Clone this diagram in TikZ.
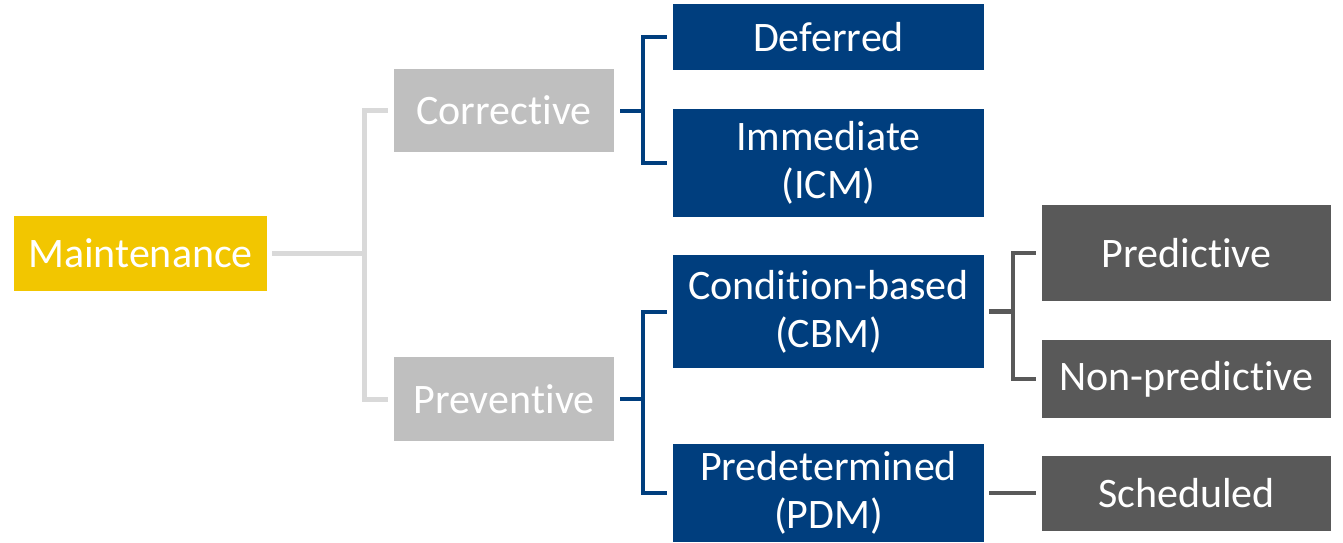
\documentclass[tikz,border=0pt]{standalone}
\usepackage{fontspec}
\setmainfont{Carlito}[RawFeature={-liga;-clig;-calt;-dlig}]
\newcommand{\nolig}{\kern0pt{}}
\definecolor{myyellow}{HTML}{F2C600}
\definecolor{lgbox}{HTML}{BFBFBF}
\definecolor{lgline}{HTML}{D9D9D9}
\definecolor{myblue}{HTML}{003E7E}
\definecolor{dgray}{HTML}{595959}
\begin{document}
\begin{tikzpicture}[x=1pt,y=-1pt,
  box/.style={rectangle, inner sep=0pt, align=center, text=white,
    font=\fontsize{42}{48}\selectfont},
  ybox/.style={box, fill=myyellow},
  gbox/.style={box, fill=lgbox, minimum width=220pt},
  bbox/.style={box, fill=myblue, minimum width=311pt},
  dbox/.style={box, fill=dgray, minimum width=289pt},
  gline/.style={draw=lgline, line width=5pt},
  bline/.style={draw=myblue, line width=4pt},
  dline/.style={draw=dgray, line width=4.5pt}]
\useasboundingbox (0,0) rectangle (1343,542);
\node[ybox, minimum width=253pt, minimum height=75pt] (m) at (140.5,253) {Maintenance};
\node[gbox, minimum height=83pt] (cor) at (504,110.5) {Correc\nolig tive};
\node[gbox, minimum height=84pt] (pre) at (504,399) {Preven\nolig tive};
\node[bbox, minimum height=66pt] (def) at (828.5,37) {Deferred};
\node[bbox, minimum height=108pt] (imm) at (828.5,163) {Immediate\\(ICM)};
\node[bbox, minimum height=113pt] (cbm) at (828.5,311.5) {Condi\nolig tion-based\\(CBM)};
\node[bbox, minimum height=98pt] (pdm) at (828.5,493) {Predetermined\\(PDM)};
\node[dbox, minimum height=96pt] (prd) at (1186.5,253) {Predic\nolig tive};
\node[dbox, minimum height=78pt] (npr) at (1186.5,379) {Non-predic\nolig tive};
\node[dbox, minimum height=75pt] (sch) at (1186.5,493) {Scheduled};
% connectors
\coordinate (mj) at (m.east -| 364,0);
\draw[gline] ([xshift=5pt]m.east) -- (mj);
\draw[gline] ([xshift=-6pt]cor.west) -| (mj) |- ([xshift=-6pt]pre.west);
\coordinate (cj) at (cor.east -| 643,0);
\draw[bline] ([xshift=6pt]cor.east) -- (cj);
\draw[bline] ([xshift=-6pt]def.west) -| (cj) |- ([xshift=-6pt]imm.west);
\coordinate (pj) at (pre.east -| 643,0);
\draw[bline] ([xshift=6pt]pre.east) -- (pj);
\draw[bline] ([xshift=-6pt]cbm.west) -| (pj) |- ([xshift=-6pt]pdm.west);
\coordinate (bj) at (cbm.east -| 1013,0);
\draw[dline] ([xshift=5pt]cbm.east) -- (bj);
\draw[dline] ([xshift=-6pt]prd.west) -| (bj) |- ([xshift=-6pt]npr.west);
\draw[dline] ([xshift=5pt]pdm.east) -- ([xshift=-6pt]sch.west);
\end{tikzpicture}
\end{document}
